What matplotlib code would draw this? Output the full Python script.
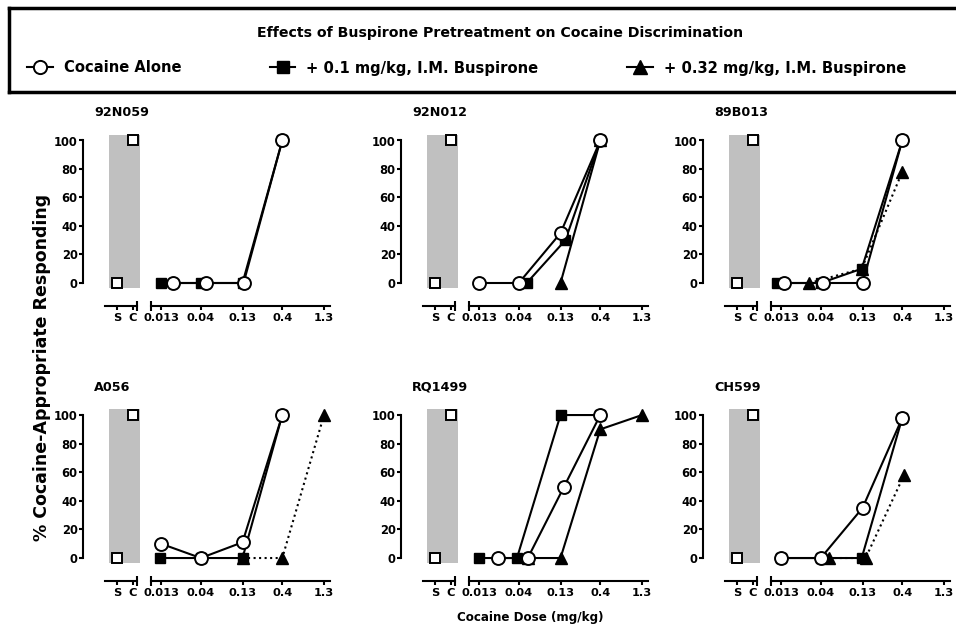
import matplotlib
matplotlib.use('Agg')
import matplotlib.pyplot as plt
from matplotlib.lines import Line2D
from matplotlib.ticker import NullFormatter

plt.rcParams['font.family'] = ['DejaVu Sans']
plt.rcParams['font.weight'] = 'bold'

# ---- data ----
subjects = ['92N059', '92N012', '89B013', 'A056', 'RQ1499', 'CH599']
dose_ticks = [0.013, 0.04, 0.13, 0.4, 1.3]
dose_labels = ['0.013', '0.04', '0.13', '0.4', '1.3']
sc_labels = ['S', 'C']
sc_vals = [[0, 100], [0, 100], [0, 100], [0, 100], [0, 100], [0, 100]]

# cocaine alone (open circles); x = plotted dose position (nudged as in original)
alone_x = [[0.018, 0.046, 0.134, 0.4],
           [0.013, 0.04, 0.13, 0.4],
           [0.0143, 0.042, 0.13, 0.4],
           [0.013, 0.04, 0.13, 0.4],
           [0.0223, 0.0516, 0.144, 0.4],
           [0.013, 0.04, 0.13, 0.4]]
alone_y = [[0, 0, 0, 100],
           [0, 0, 35, 100],
           [0, 0, 0, 100],
           [10, 0, 11, 100],
           [0, 0, 50, 100],
           [0, 0, 35, 98]]

# + 0.1 mg/kg buspirone (filled squares)
bus01_x = [[0.013, 0.04, 0.13, 0.4],
           [0.05, 0.149, 0.4],
           [0.0116, 0.04, 0.127, 0.4],
           [0.0128, 0.04, 0.13, 0.4],
           [0.013, 0.038, 0.13, 0.4],
           [0.013, 0.04, 0.127, 0.4]]
bus01_y = [[0, 0, 0, 100],
           [0, 30, 100],
           [0, 0, 10, 100],
           [0, 0, 0, 100],
           [0, 0, 100, 100],
           [0, 0, 0, 98]]

# + 0.32 mg/kg buspirone (filled triangles)
bus032_x = [[],
            [0.13, 0.4],
            [0.029, 0.127, 0.4],
            [0.13, 0.4, 1.3],
            [0.0516, 0.13, 0.4, 1.3],
            [0.05, 0.142, 0.42]]
bus032_y = [[],
            [0, 100],
            [0, 10, 78],
            [0, 0, 100],
            [0, 0, 90, 100],
            [0, 0, 58]]
bus032_ls = ['-', '-', ':', ':', '-', ':']

# ---- layout (pixels of a 956x627 canvas) ----
W, H = 956, 627
col_x = [83, 401, 703]
row_y = [(129.1, 305.8), (403.6, 580.9)]

fig = plt.figure(figsize=(9.56, 6.27), dpi=100)

for i, name in enumerate(subjects):
    r, c = divmod(i, 3)
    x0 = col_x[c]
    top, bot = row_y[r]
    axL = fig.add_axes([x0 / W, 1 - bot / H, 60 / W, (bot - top) / H])
    axR = fig.add_axes([(x0 + 60) / W, 1 - bot / H, 196 / W, (bot - top) / H], sharey=axL)
    for ax in (axL, axR):
        ax.patch.set_alpha(0)
        ax.spines['top'].set_visible(False)
        ax.spines['right'].set_visible(False)
        for s in ax.spines.values():
            s.set_linewidth(1.5)
        ax.tick_params(width=1.5, length=2.8, pad=2.5, labelsize=8.2)
    axR.spines['left'].set_visible(False)

    # saline / cocaine training points on a grey band
    axL.set_xlim(-1.125, 2.625)
    axL.set_ylim(-16, 108)
    axL.fill_between([0.5, 2.4375], -3.5, 104, color='#c0c0c0', lw=0, zorder=0)
    axL.plot([1, 2], sc_vals[i], ls='none', marker='s', ms=7.8, mfc='white',
             mec='black', mew=1.4, clip_on=False, zorder=5)
    axL.spines['left'].set_bounds(0, 100)
    axL.spines['bottom'].set_bounds(0.25, 2.25)
    axL.set_yticks([0, 20, 40, 60, 80, 100])
    axL.tick_params(axis='y', labelsize=8.3, pad=1)
    axL.set_xticks([1, 2])
    axL.set_xticklabels(sc_labels)
    axL.set_xticks([2.25], minor=True)
    axL.xaxis.set_minor_formatter(NullFormatter())
    axL.tick_params(axis='x', which='minor', direction='inout', length=7, width=1.5)

    # dose-effect curves
    axR.set_xscale('log')
    axR.set_xlim(0.007816, 1.986)
    axR.spines['bottom'].set_bounds(0.0098, 1.539)
    axR.tick_params(axis='y', left=False, labelleft=False)
    if bus032_x[i]:
        axR.plot(bus032_x[i], bus032_y[i], color='black', lw=1.5, ls=bus032_ls[i],
                 marker='^', ms=8, mfc='black', mec='black', clip_on=False, zorder=3)
    axR.plot(bus01_x[i], bus01_y[i], color='black', lw=1.5, marker='s', ms=7.8,
             mfc='black', mec='black', clip_on=False, zorder=4)
    axR.plot(alone_x[i], alone_y[i], color='black', lw=1.5, marker='o', ms=9.3,
             mfc='white', mec='black', mew=1.4, clip_on=False, zorder=5)
    axR.set_xticks(dose_ticks)
    axR.set_xticklabels(dose_labels)
    axR.set_xticks([0.0098], minor=True)
    axR.xaxis.set_minor_formatter(NullFormatter())
    axR.tick_params(axis='x', which='minor', direction='inout', length=7, width=1.5)

    axL.text(11 / 60, 1 + 16.5 / (bot - top), name, transform=axL.transAxes,
             ha='left', va='center', fontsize=9.2, fontweight='bold')

fig.text(42 / W, 1 - 367 / H, '% Cocaine-Appropriate Responding', rotation=90,
         ha='center', va='center', fontsize=12.5, fontweight='bold')
fig.text(530 / W, 1 - 617 / H, 'Cocaine Dose (mg/kg)', ha='center', va='center',
         fontsize=8.6, fontweight='bold')

# legend box
axLeg = fig.add_axes([9 / W, 1 - 92 / H, 960 / W, 84 / H])
axLeg.set_xticks([])
axLeg.set_yticks([])
for s in axLeg.spines.values():
    s.set_linewidth(2.5)
axLeg.text((500 - 9) / 960, (92 - 33) / 84, 'Effects of Buspirone Pretreatment on Cocaine Discrimination',
           transform=axLeg.transAxes, ha='center', va='center', fontsize=10.2, fontweight='bold')
handles = [
    Line2D([], [], color='black', lw=1.5, marker='o', ms=9.5, mfc='white', mec='black', mew=1.4),
    Line2D([], [], color='black', lw=1.5, marker='s', ms=8.5, mfc='black', mec='black'),
    Line2D([], [], color='black', lw=1.5, marker='^', ms=9.5, mfc='black', mec='black'),
]
labels = ['Cocaine Alone', '+ 0.1 mg/kg, I.M. Buspirone', '+ 0.32 mg/kg, I.M. Buspirone']
axLeg.legend(handles, labels, ncol=3, loc='center left', bbox_to_anchor=((27 - 9) / 960, (92 - 68) / 84),
             frameon=False, fontsize=10.6, handlelength=1.75, handletextpad=0.75,
             columnspacing=6.0, borderpad=0, borderaxespad=0)

fig.savefig('out.png', dpi=100)
